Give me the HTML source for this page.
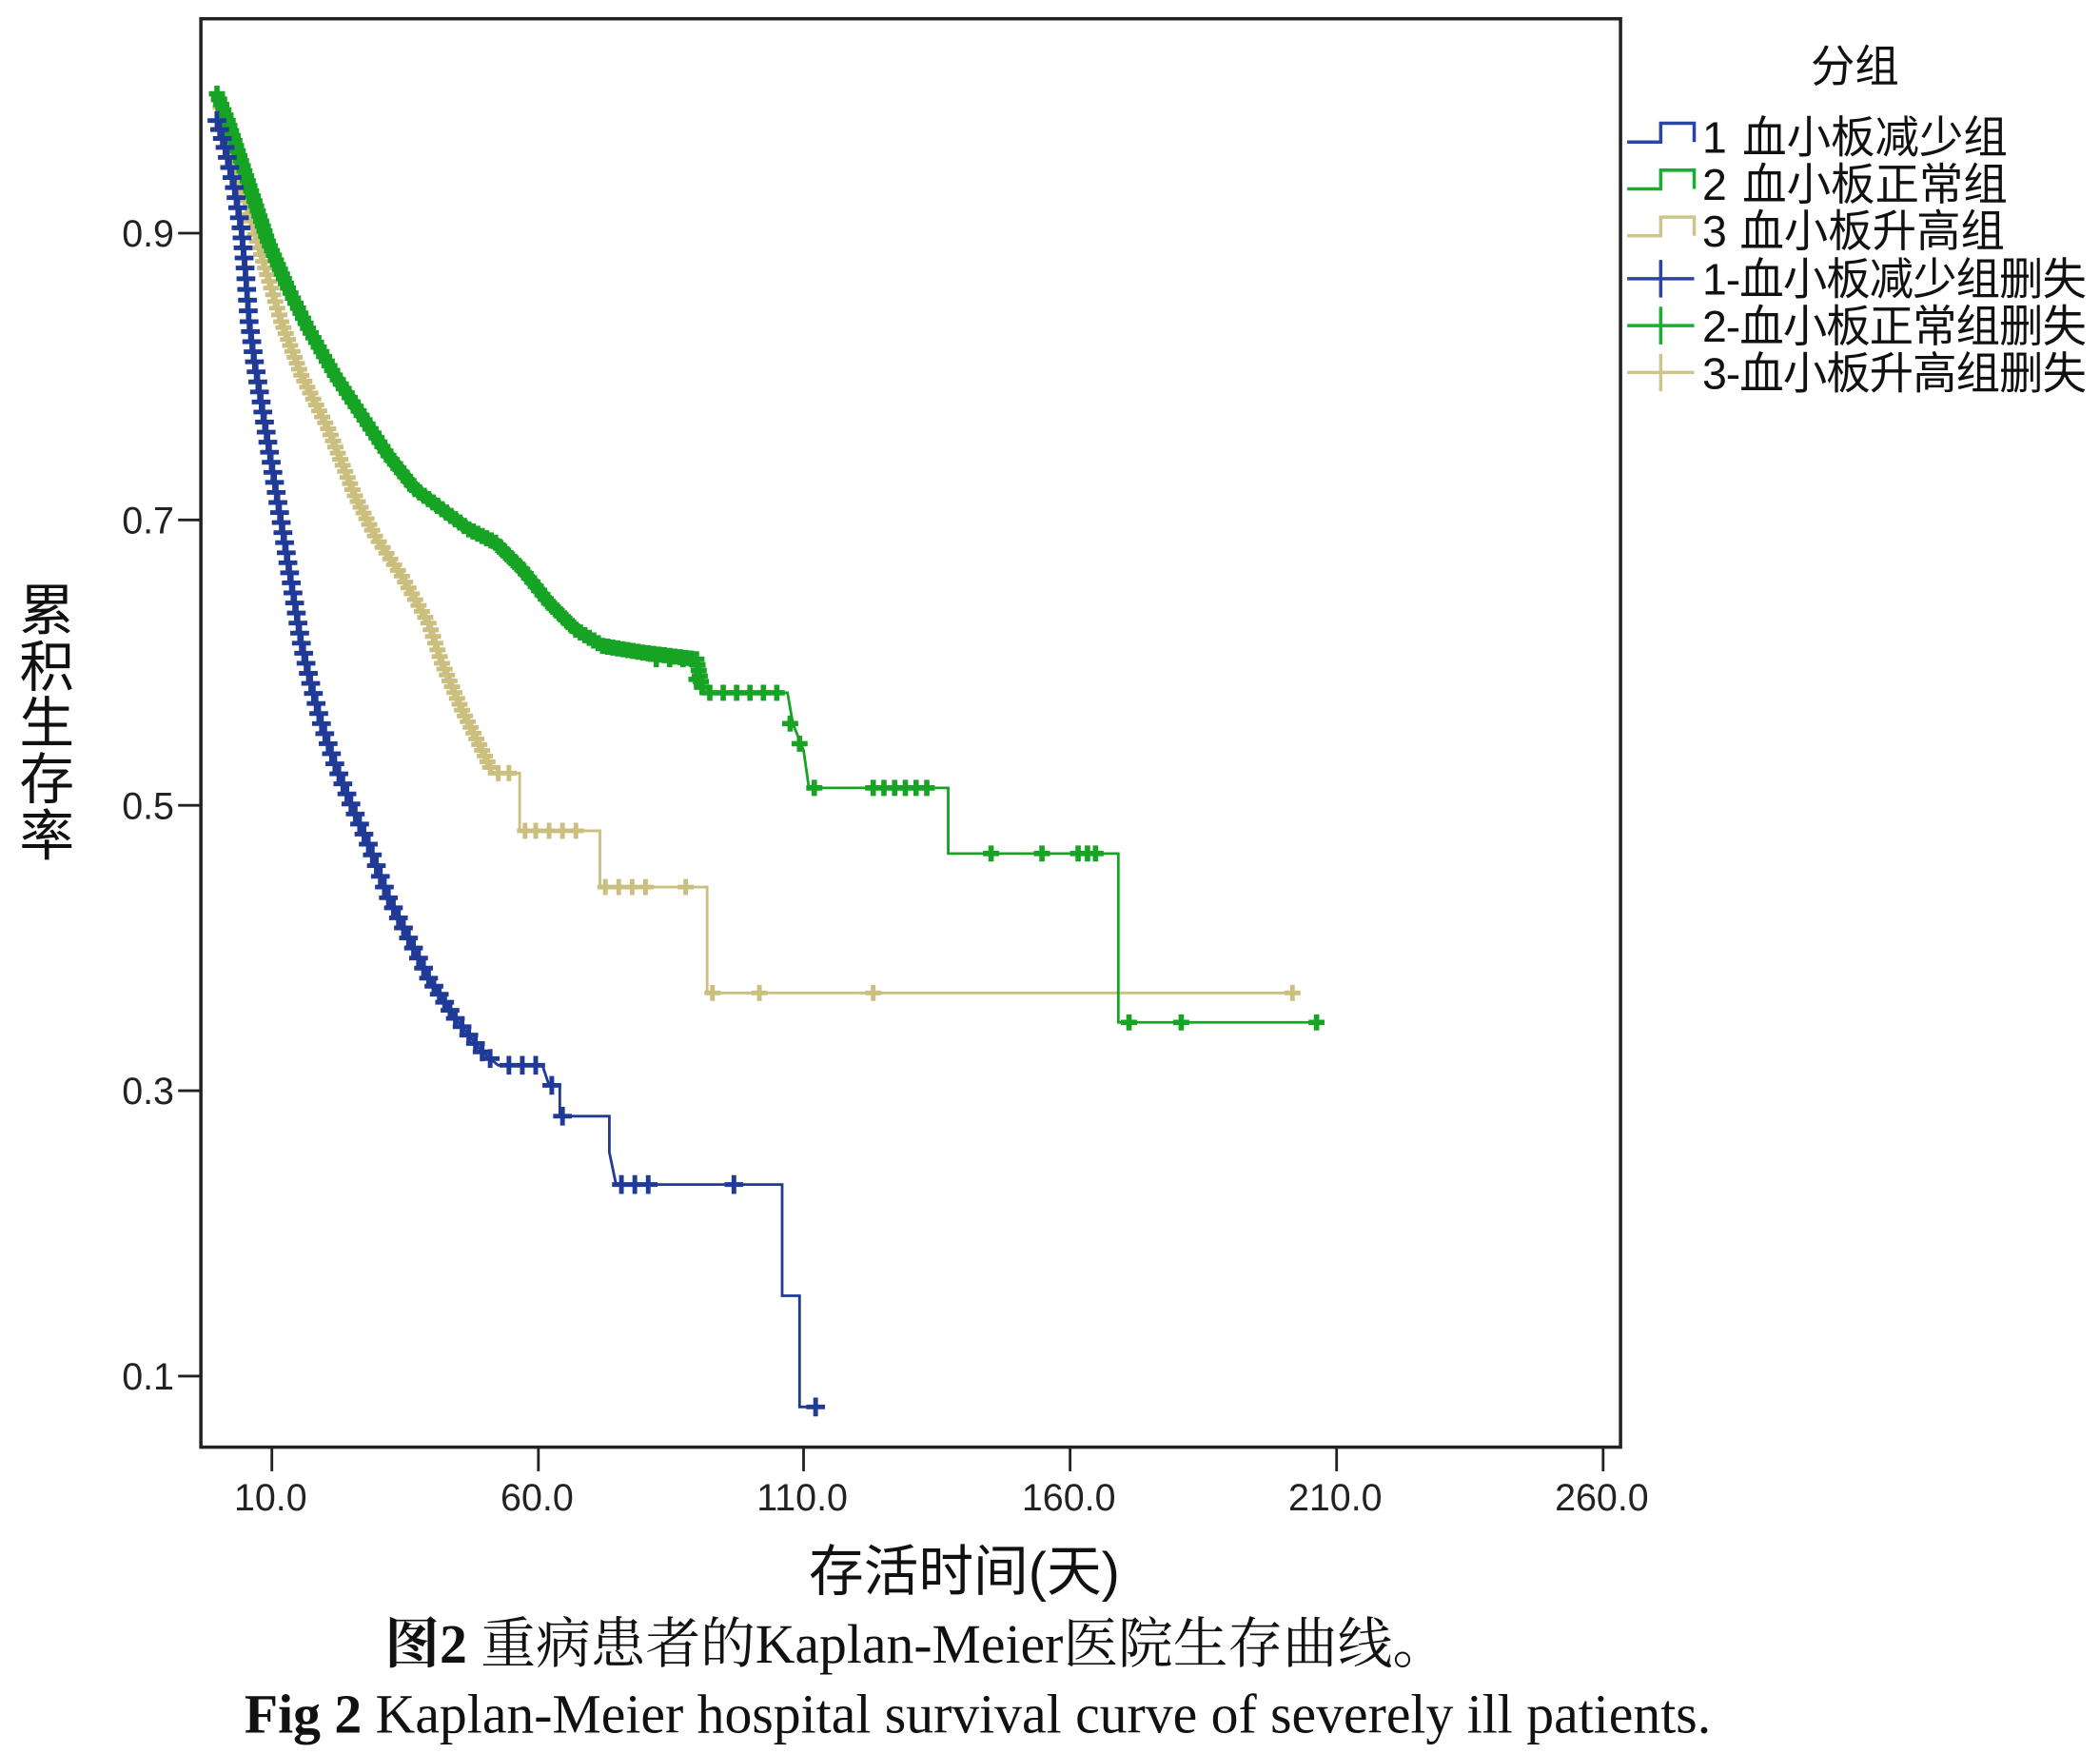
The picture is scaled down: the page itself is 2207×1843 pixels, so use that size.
<!DOCTYPE html>
<html><head><meta charset="utf-8"><style>
html,body{margin:0;padding:0;background:#fff}
svg{display:block}
</style></head><body>
<svg id="s" width="2207" height="1843" viewBox="0 0 1568 1309" preserveAspectRatio="none" xmlns="http://www.w3.org/2000/svg">
<rect x="0" y="0" width="1568" height="1309" fill="#fff"/>
<rect x="150" y="14" width="1060" height="1066" fill="none" stroke="#222" stroke-width="2.5"/>
<g stroke="#222" stroke-width="2">
<line x1="133" y1="174" x2="150" y2="174"/><line x1="133" y1="388" x2="150" y2="388"/>
<line x1="133" y1="601" x2="150" y2="601"/><line x1="133" y1="814" x2="150" y2="814"/>
<line x1="133" y1="1027" x2="150" y2="1027"/>
<line x1="203" y1="1080" x2="203" y2="1098"/><line x1="402" y1="1080" x2="402" y2="1098"/>
<line x1="600" y1="1080" x2="600" y2="1098"/><line x1="799" y1="1080" x2="799" y2="1098"/>
<line x1="998" y1="1080" x2="998" y2="1098"/><line x1="1197" y1="1080" x2="1197" y2="1098"/>
</g>
<g font-family="Liberation Sans, sans-serif" font-size="28" fill="#222" text-anchor="end">
<text x="130" y="184">0.9</text><text x="130" y="398">0.7</text><text x="130" y="611">0.5</text>
<text x="130" y="824">0.3</text><text x="130" y="1037">0.1</text>
</g>
<g font-family="Liberation Sans, sans-serif" font-size="28" fill="#222" text-anchor="middle">
<text x="202" y="1127">10.0</text><text x="401" y="1127">60.0</text><text x="599" y="1127">110.0</text>
<text x="798" y="1127">160.0</text><text x="997" y="1127">210.0</text><text x="1196" y="1127">260.0</text>
</g>
<g font-family="Liberation Sans, 'Noto Sans CJK SC', sans-serif" font-size="41" fill="#111">
<text x="720" y="1187" text-anchor="middle">存活时间(天)</text>
<text x="35" y="470" text-anchor="middle">累</text>
<text x="35" y="512" text-anchor="middle">积</text>
<text x="35" y="554" text-anchor="middle">生</text>
<text x="35" y="596" text-anchor="middle">存</text>
<text x="35" y="638" text-anchor="middle">率</text>
</g>
<g font-family="Liberation Serif, 'Noto Serif CJK SC', serif" font-size="41" fill="#111">
<text x="684" y="1241" text-anchor="middle"><tspan font-weight="bold">图2</tspan> 重病患者的Kaplan-Meier医院生存曲线。</text>
<text x="730" y="1293" text-anchor="middle"><tspan font-weight="bold">Fig 2</tspan> Kaplan-Meier hospital survival curve of severely ill patients.</text>
</g>
<g font-family="Liberation Sans, 'Noto Sans CJK SC', sans-serif" font-size="33" fill="#111">
<text x="1385" y="61" text-anchor="middle">分组</text>
<text x="1271" y="114">1 <tspan x="1301">血小板减少组</tspan></text>
<text x="1271" y="149">2 <tspan x="1301">血小板正常组</tspan></text>
<text x="1271" y="184">3 <tspan x="1299">血小板升高组</tspan></text>
<text x="1271" y="220" textLength="287">1-血小板减少组删失</text>
<text x="1271" y="255" textLength="287">2-血小板正常组删失</text>
<text x="1271" y="290" textLength="287">3-血小板升高组删失</text>
</g>
<g fill="none" stroke-width="2.5">
<polyline points="1215,106 1240,106 1240,92 1265,92 1265,106" stroke="#2a44a8"/>
<polyline points="1215,141 1240,141 1240,127 1265,127 1265,141" stroke="#1aae2e"/>
<polyline points="1215,176 1240,176 1240,162 1265,162 1265,176" stroke="#cfc48a"/>
<path d="M1215,208 H1265 M1240,194 V222" stroke="#2a44a8"/>
<path d="M1215,243 H1265 M1240,229 V257" stroke="#1aae2e"/>
<path d="M1215,278 H1265 M1240,264 V292" stroke="#cfc48a"/>
</g>
<g id="curves"></g>
</svg>
<script>
var NS="http://www.w3.org/2000/svg";
var g=document.getElementById("curves");
function add(pts,color,markEvery,markEnd,extra,sz,sw){
  var p=document.createElementNS(NS,"polyline");
  p.setAttribute("points",pts.map(function(a){return a.join(",")}).join(" "));
  p.setAttribute("fill","none");p.setAttribute("stroke",color);p.setAttribute("stroke-width","2");
  g.appendChild(p);
  var d="";
  function plus(x,y){d+="M"+(x-sz)+","+y+"h"+(2*sz)+"M"+x+","+(y-sz)+"v"+(2*sz);}
  for(var i=0;i<pts.length-1;i++){
    var a=pts[i],b=pts[i+1];
    if(i>=markEnd)break;
    var L=Math.hypot(b[0]-a[0],b[1]-a[1]);var n=Math.max(1,Math.round(L/markEvery));
    for(var k=0;k<n;k++){plus(a[0]+(b[0]-a[0])*k/n,a[1]+(b[1]-a[1])*k/n);}
  }
  (extra||[]).forEach(function(e){plus(e[0],e[1]);});
  var m=document.createElementNS(NS,"path");
  m.setAttribute("d",d);m.setAttribute("stroke",color);m.setAttribute("stroke-width",sw);m.setAttribute("fill","none");
  g.appendChild(m);
}
var tan=[[162,70],[170,100],[180,140],[195,190],[210,240],[225,280],[245,320],[265,370],[280,400],[300,430],[320,465],[330,495],[345,530],[360,560],[368,577],[388,577],[388,620],[448,620],[448,662],[528,662],[528,741],[968,741]];
add(tan,"#cbbf80",5,14,[[372,577],[380,577],[392,620],[400,620],[410,620],[420,620],[430,620],[452,662],[462,662],[472,662],[482,662],[512,662],[532,741],[567,741],[652,741],[965,741]],6,3.5);
var green=[[162,70],[170,90],[180,120],[190,150],[200,180],[215,215],[230,245],[250,280],[270,310],[290,340],[310,365],[330,380],[350,395],[370,405],[390,425],[410,450],[430,470],[450,482],[480,487],[520,492],[525,517],[588,517],[592,540],[600,560],[604,588],[708,588],[708,637],[835,637],[835,763],[985,763]];
add(green,"#17a324",4,20,[[490,492],[500,492],[510,492],[520,507],[530,517],[540,517],[550,517],[560,517],[570,517],[580,517],[590,540],[597,555],[608,588],[652,588],[660,588],[668,588],[676,588],[684,588],[692,588],[740,637],[778,637],[805,637],[812,637],[818,637],[843,763],[882,763],[983,763]],6,4);
var blue=[[162,90],[168,110],[175,140],[180,170],[183,200],[186,240],[190,270],[195,300],[200,330],[205,360],[210,390],[215,420],[220,450],[225,480],[232,510],[240,540],[250,570],[262,600],[275,630],[290,670],[305,700],[320,730],[340,760],[360,785],[372,795],[405,795],[410,810],[418,810],[418,833],[455,833],[455,860],[460,884],[584,884],[584,967],[597,967],[597,1050],[612,1050]];
add(blue,"#203a98",8,24,[[380,795],[390,795],[400,795],[412,810],[420,833],[464,884],[474,884],[484,884],[548,884],[609,1050]],7,3.5);
</script>
</body></html>
